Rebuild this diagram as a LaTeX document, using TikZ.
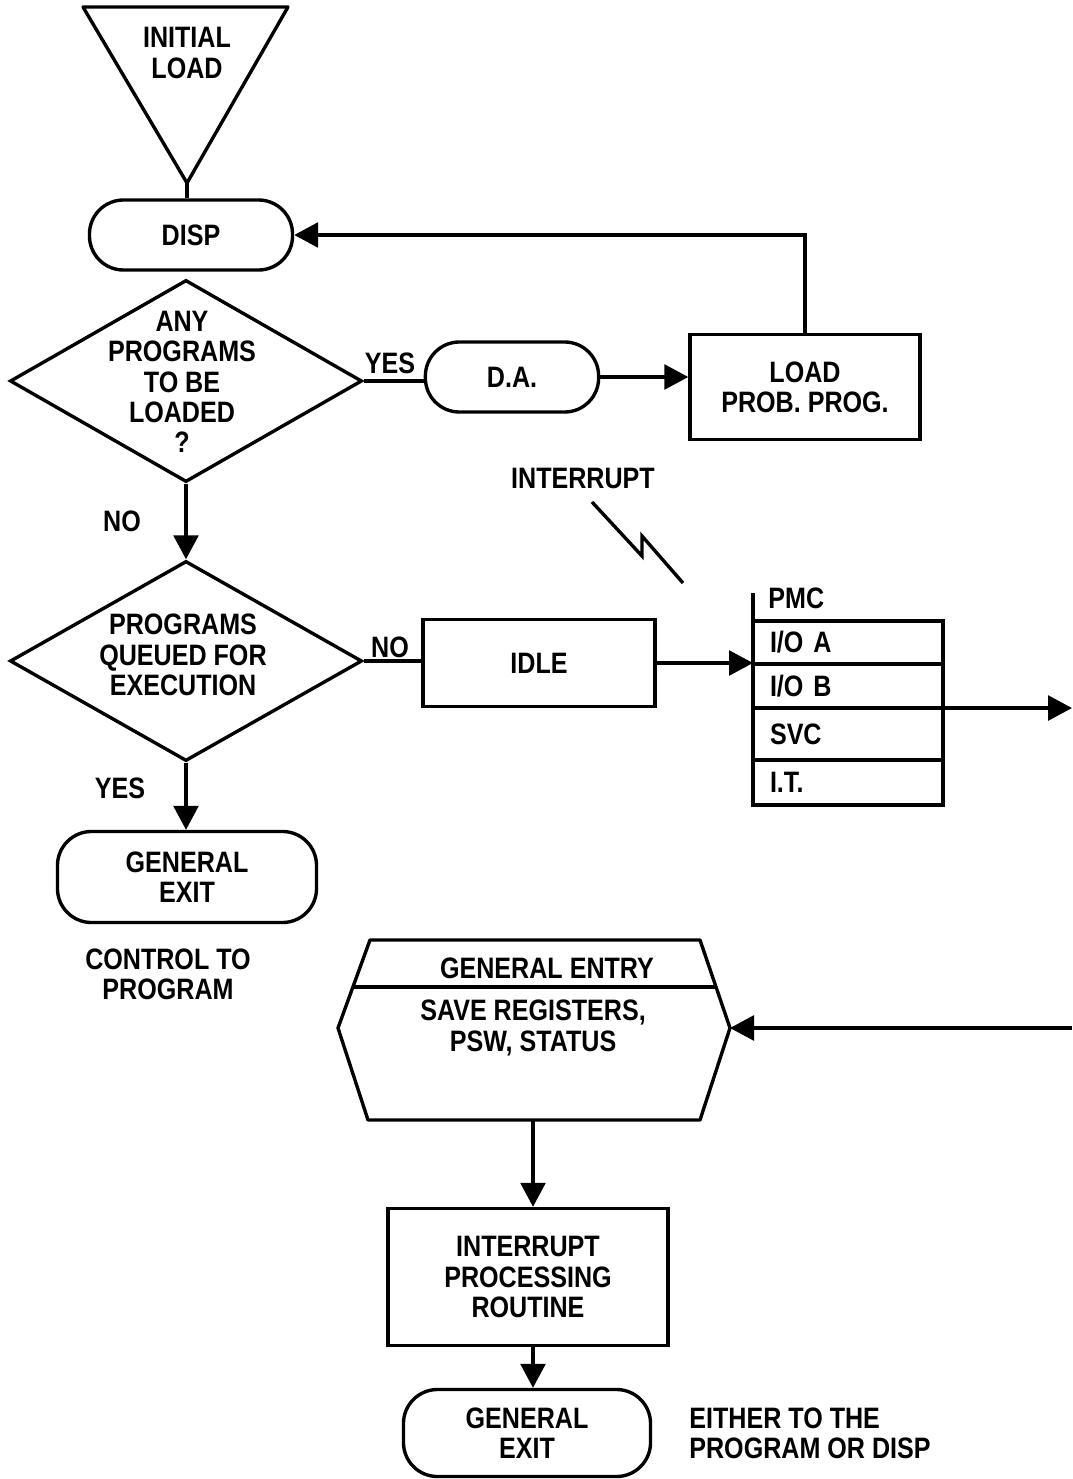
\documentclass[tikz,border=0pt]{standalone}
\usepackage{fontspec}
\setmainfont{Liberation Sans}[FakeStretch=0.85]
\usetikzlibrary{arrows.meta,shapes.geometric,positioning}

\begin{document}
\begin{tikzpicture}[x=0.025cm,y=-0.025cm,line width=2.4pt,
    every node/.style={font=\bfseries\fontsize{21}{21.5}\selectfont},
    flow/.style={-{Triangle[length=0.6cm,width=0.62cm]}},
    term/.style={draw,rounded corners=0.85cm,align=center,inner sep=0pt},
    decision/.style={draw,diamond,inner sep=0pt,minimum width=8.8cm,minimum height=5.05cm},
    procbox/.style={draw,align=center,inner sep=0pt},
    pmcrow/.style={draw,minimum width=4.75cm,text width=3.9cm,inner xsep=0.425cm,inner ysep=0pt,outer sep=0pt,align=left}]
    \useasboundingbox (0,0) rectangle (1072,1479);

    \draw[line join=round] (83,7) -- (288,7) -- (187,183) coordinate (apex) -- cycle;
    \node[align=center] (init) at (187,53) {INITIAL\\LOAD};
    \node[term,minimum width=5.075cm,minimum height=1.75cm] (disp) at (191,235) {DISP};
    \draw (apex) -- (apex |- disp.north);

    \node[decision] (q1) at (186,381) {};
    \node[align=center] (q1txt) at (182,382) {ANY\\PROGRAMS\\TO BE\\LOADED\\?};
    \node (yes1) at (390,363) {YES};
    \node[term,minimum width=4.33cm,minimum height=1.75cm] (da) at (512,377) {D.A.};
    \node[procbox,minimum width=5.75cm,minimum height=2.625cm] (loadp) at (805,387) {LOAD\\PROB. PROG.};
    \draw (q1.east) -- (q1.east -| da.west);
    \draw[flow] (da.east) -- (loadp.west |- da.east);
    \draw[flow] (loadp.north) |- (disp.east);

    \node (no1) at (122,521) {NO};
    \node[decision,minimum height=5cm] (q2) at (186,661) {};
    \node[align=center] (q2txt) at (183,655) {PROGRAMS\\QUEUED FOR\\EXECUTION};
    \draw[flow] (q1.south) -- (q2.north);
    \node (no2) at (390,647) {NO};
    \node[procbox,minimum width=5.8cm,minimum height=2.175cm] (idle) at (539,663) {IDLE};
    \draw (q2.east) -- (q2.east -| idle.west);

    \node (intr) at (583,478) {INTERRUPT};
    \draw (592,502) -- (642,556) -- (642,536) -- (683,583);

    \node[anchor=west] (pmc) at (762,598) {PMC};
    \node[pmcrow,minimum height=1.075cm,anchor=north west] (ioa) at (753,621) {I/O A};
    \node[pmcrow,minimum height=1.1cm,below=0pt of ioa] (iob) {I/O B};
    \node[pmcrow,minimum height=1.3cm,below=0pt of iob] (svc) {SVC};
    \node[pmcrow,minimum height=1.125cm,below=0pt of svc] (it) {I.T.};
    \draw (it.south west) -- (ioa.north west) -- ++(0,-28);
    \draw[flow] (idle.east) -- (idle.east -| ioa.west);
    \coordinate (pmcout) at (1072,708);
    \draw[flow] (iob.south east) -- (iob.south east -| pmcout);

    \node (yes2) at (120,788) {YES};
    \node[term,minimum width=6.475cm,minimum height=2.275cm] (gexit) at (187,877) {GENERAL\\EXIT};
    \draw[flow] (q2.south) -- (q2.south |- gexit.north);
    \node[align=center] (ctrl) at (168,974) {CONTROL TO\\PROGRAM};

    \draw[line join=round] (370,940) -- (700,940) -- (730,1028) coordinate (entryE) -- (700,1120) -- (368,1120) -- (338,1028) -- cycle;
    \draw (353,987) -- (716,987);
    \coordinate (entryS) at (533,1120);
    \node (gentry) at (547,968) {GENERAL ENTRY};
    \node[align=center] (save) at (533,1028) {SAVE REGISTERS,\\PSW, STATUS};
    \coordinate (intin) at (1072,1028);
    \draw[flow] (intin) -- (entryE);

    \node[procbox,minimum width=7cm,minimum height=3.425cm] (iproc) at (528,1277) {INTERRUPT\\PROCESSING\\ROUTINE};
    \draw[flow] (entryS) -- (entryS |- iproc.north);
    \node[term,minimum width=6.175cm,minimum height=2.175cm] (gexit2) at (527,1433) {GENERAL\\EXIT};
    \draw[flow] (entryS |- iproc.south) -- (entryS |- gexit2.north);
    \node[align=left,anchor=west] (either) at (683,1433) {EITHER TO THE\\PROGRAM OR DISP};
\end{tikzpicture}
\end{document}
